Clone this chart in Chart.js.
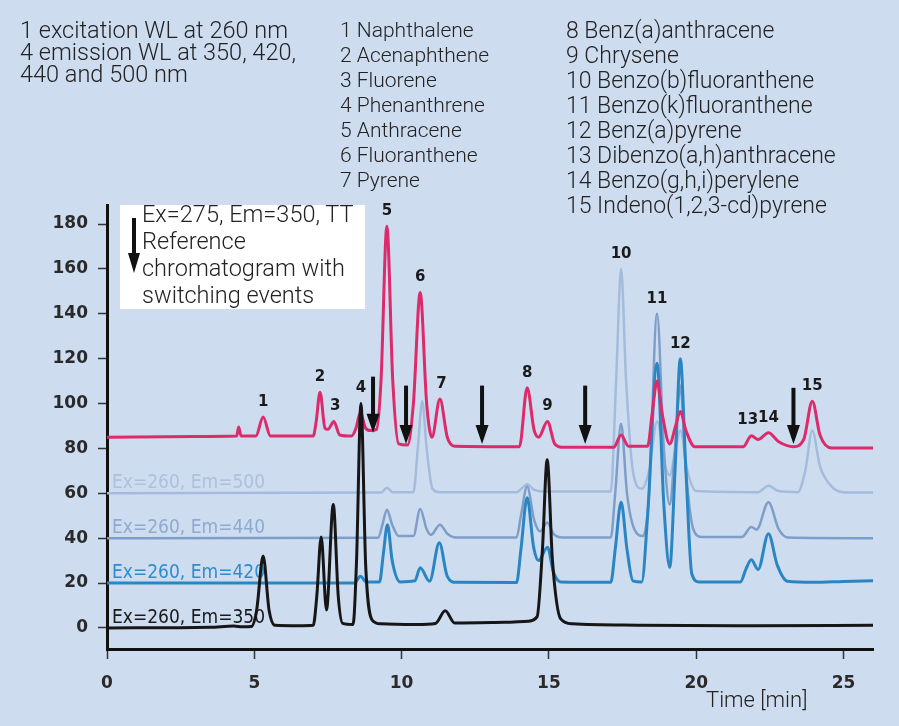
<!DOCTYPE html>
<html>
<head>
<meta charset="utf-8">
<script src="https://cdn.jsdelivr.net/npm/chart.js@4.4.1/dist/chart.umd.min.js"></script>
<style>
  html, body { margin: 0; padding: 0; }
  body { background: #cedcf0; }
  #wrap { position: relative; width: 899px; height: 726px; overflow: hidden; background: #cedcf0; }
  #myChart { position: absolute; left: 0; top: 0; }
  .txt { position: absolute; font-family: Roboto, sans-serif; font-weight: 300; color: #222; white-space: nowrap; }
  #notes { left: 20px; top: 19px; font-size: 23.5px; line-height: 22px; }
  #col1 { left: 340px; top: 18px; font-size: 21px; line-height: 25px; }
  #col2 { left: 566px; top: 18px; font-size: 23px; line-height: 25px; }
  #refBox { position: absolute; left: 120px; top: 205px; width: 245px; height: 104px; background: #fff; }
  #refBox .bar { position: absolute; left: 12px; top: 13px; width: 4px; height: 40px; background: #111; }
  #refBox .head { position: absolute; left: 8px; top: 48px; width: 0; height: 0;
    border-left: 6px solid transparent; border-right: 6px solid transparent; border-top: 20px solid #111; }
  #refBox .txt { left: 22px; top: -4px; font-size: 23.5px; line-height: 27px; }
  #timeLbl { left: 706px; top: 688px; font-size: 22px; line-height: 24px; }
</style>
</head>
<body>
<div id="wrap">
  <canvas id="myChart" width="899" height="726"></canvas>
  <div class="txt" id="notes">1 excitation WL at 260 nm<br>4 emission WL at 350, 420,<br>440 and 500 nm</div>
  <div class="txt" id="col1"></div>
  <div class="txt" id="col2"></div>
  <div id="refBox">
    <div class="bar"></div><div class="head"></div>
    <div class="txt">Ex=275, Em=350, TT<br>Reference<br>chromatogram with<br>switching events</div>
  </div>
  <div class="txt" id="timeLbl">Time [min]</div>
</div>
<script>
// compounds, numbered in elution order
const compounds = ['Naphthalene', 'Acenaphthene', 'Fluorene', 'Phenanthrene', 'Anthracene',
  'Fluoranthene', 'Pyrene', 'Benz(a)anthracene', 'Chrysene', 'Benzo(b)fluoranthene',
  'Benzo(k)fluoranthene', 'Benz(a)pyrene', 'Dibenzo(a,h)anthracene', 'Benzo(g,h,i)perylene',
  'Indeno(1,2,3-cd)pyrene'];

// peak apex: retention time [min] and height of the tallest trace
const peakTimes = [5.3, 7.23, 7.75, 8.62, 9.5, 10.63, 11.35, 14.26, 14.95, 17.45, 18.67, 19.46, 21.75, 22.45, 23.94];
const peakTops  = [94, 105, 92, 100, 179, 149.5, 102, 107, 92, 160, 140, 120, 86, 87, 101];

// wavelength switching events on the reference run
const switchTimes = [9.03, 10.15, 12.73, 16.23, 23.3];
const switchFrom  = [112, 108, 108, 108, 107];
const switchTo    = [87, 82, 82, 82, 82];

const xTicks = [0, 5, 10, 15, 20, 25];
const yTicks = [0, 20, 40, 60, 80, 100, 120, 140, 160, 180];

const seriesNames = ['Ex=260, Em=350', 'Ex=275, Em=350, TT', 'Ex=260, Em=420', 'Ex=260, Em=440', 'Ex=260, Em=500'];
const baselines = [0, 85, 20, 40, 60];

// traces as [time, signal]
const em350 = [[0,0],[3.5,0.3],[4.3,0.8],[4.6,0.5],[4.9,0.6],[5.08,8],[5.3,32],[5.5,8],[5.7,1.2],[6.5,1.0],
  [7.0,1.2],[7.12,14],[7.27,40.5],[7.45,8],[7.68,55],[7.85,14],[8.0,2],[8.35,1.5],[8.47,30],[8.62,100],
  [8.78,28],[9.0,3.5],[9.3,1.8],[10.5,1.5],[11.15,2],[11.48,7.6],[11.8,2.2],[13.5,2.5],[14.3,3],[14.6,5],
  [14.78,35],[14.94,75],[15.12,30],[15.4,4],[15.8,1.8],[18,1.2],[22,1],[26,1.2]];

const tt350 = [[0,85],[3,85.3],[4.4,85.5],[4.47,89.5],[4.55,85.5],[5.05,85.5],[5.3,94],[5.55,85.5],[7.0,85.5],
  [7.1,92],[7.23,105],[7.4,89],[7.5,88.5],[7.7,92],[7.9,86],[8.3,85.5],[8.45,89],[8.6,96],[8.78,89],
  [8.95,88],[9.15,88.5],[9.3,110],[9.5,179],[9.7,110],[9.9,82],[10.2,81.5],[10.4,100],[10.63,149.5],
  [10.85,100],[11.03,85],[11.3,102],[11.55,85],[11.8,81],[14.0,80.8],[14.26,107],[14.5,88],[14.65,85],
  [14.95,92],[15.2,82],[15.5,80.5],[17.2,80.5],[17.45,86],[17.7,81],[18.35,81],[18.5,95],[18.67,110],
  [18.85,95],[19.1,82],[19.3,90],[19.46,96.5],[19.65,88],[19.95,80.7],[21.6,80.8],[21.87,85.7],[22.1,84],
  [22.45,87],[22.8,83],[23.3,80.8],[23.65,84],[23.94,101],[24.2,86],[24.6,80.2],[26,80.2]];

const em420 = [[0,20],[8.4,20],[8.6,23],[8.8,20.5],[9.25,20.5],[9.38,33],[9.52,46],[9.68,30],[9.95,20.5],
  [10.45,21],[10.63,26.8],[10.95,20.8],[11.28,38],[11.55,23],[11.85,20.3],[13.9,20.2],[14.05,35],[14.26,58],
  [14.48,36],[14.65,30],[14.95,36],[15.15,25],[15.4,20.5],[17.1,20.3],[17.25,35],[17.45,56],[17.65,35],
  [17.85,21],[18.15,20.5],[18.35,50],[18.67,118],[18.9,55],[19.1,27],[19.28,70],[19.46,120],[19.65,70],
  [19.85,24],[20.1,20.5],[21.5,20.5],[21.68,26],[21.87,30.4],[22.1,26],[22.45,42],[22.75,28],[23.1,20.8],
  [24,20.3],[25,20.7],[26,21]];

const em440 = [[0,40],[9.2,40.2],[9.35,46],[9.5,52.7],[9.68,46],[9.9,41],[10.4,41],[10.63,53],[10.85,44],
  [11.0,41.5],[11.3,46],[11.55,42],[11.85,40.3],[13.9,40.3],[14.05,50],[14.26,63],[14.5,48],[14.7,43],
  [14.95,47],[15.15,42],[15.45,40.3],[17.1,40.3],[17.25,60],[17.45,91],[17.65,60],[17.9,44],[18.2,41],
  [18.4,60],[18.67,140],[18.9,80],[19.1,55],[19.28,80],[19.46,108],[19.65,70],[19.9,44],[20.2,40.5],
  [21.55,40.5],[21.87,45],[22.05,43.8],[22.45,56],[22.8,44],[23.1,40.3],[26,40]];

const em500 = [[0,60],[9.3,60.3],[9.5,62.5],[9.7,60.5],[10.4,60.5],[10.55,80],[10.7,101],[10.85,80],[11.05,62],
  [11.3,60.5],[13.9,60.5],[14.1,62.5],[14.26,64],[14.5,61.5],[14.8,60.8],[17.1,60.8],[17.28,110],[17.45,160],
  [17.62,110],[17.85,70],[18.15,62],[18.4,70],[18.67,92],[18.95,72],[19.1,68],[19.3,80],[19.46,88],
  [19.7,70],[20.0,61],[22.1,60.5],[22.45,63.4],[22.8,61],[23.45,60.5],[23.7,70],[23.94,88],[24.2,72],
  [24.6,63],[25.0,60.5],[26,60.3]];

const traces = [em350, tt350, em420, em440, em500];
const lineColors  = ['#161616', '#dc2a6a', '#2a86c2', '#7e9ec8', '#a3bcdc'];
const labelColors = ['#1a1a1a', null, '#2f8ccf', '#8eaad0', '#abc1dc'];
const lineWidths  = [3, 3, 3, 2.5, 2.5];

// compound list columns
document.getElementById('col1').innerHTML = compounds.slice(0, 7).map((c, i) => (i + 1) + ' ' + c).join('<br>');
document.getElementById('col2').innerHTML = compounds.slice(7).map((c, i) => (i + 8) + ' ' + c).join('<br>');

const tickFont = { family: 'DejaVu Sans', size: 17, weight: 'bold' };

// trace names, switching arrows and peak numbers
const plotText = {
    id: 'plotText',
    beforeDatasetsDraw(chart) {
        const ctx = chart.ctx, x = chart.scales.x, y = chart.scales.y;
        ctx.save();
        ctx.font = '19px "DejaVu Sans Condensed", "DejaVu Sans", sans-serif';
        ctx.textBaseline = 'alphabetic';
        ctx.textAlign = 'left';
        seriesNames.forEach((name, i) => {
            if (!labelColors[i]) return;
            ctx.fillStyle = labelColors[i];
            ctx.fillText(name, x.getPixelForValue(0.17), y.getPixelForValue(baselines[i]) - 5);
        });
        ctx.restore();
    },
    afterDatasetsDraw(chart) {
        const ctx = chart.ctx, x = chart.scales.x, y = chart.scales.y;
        ctx.save();
        ctx.fillStyle = '#111';
        ctx.strokeStyle = '#111';
        ctx.lineWidth = 4;
        switchTimes.forEach((t, i) => {
            const px = x.getPixelForValue(t);
            const top = y.getPixelForValue(switchFrom[i]);
            const tip = y.getPixelForValue(switchTo[i]);
            ctx.beginPath();
            ctx.moveTo(px, top);
            ctx.lineTo(px, tip - 14);
            ctx.stroke();
            ctx.beginPath();
            ctx.moveTo(px - 6.5, tip - 19);
            ctx.lineTo(px + 6.5, tip - 19);
            ctx.lineTo(px, tip);
            ctx.closePath();
            ctx.fill();
        });
        ctx.font = 'bold 15px "DejaVu Sans", sans-serif';
        ctx.textAlign = 'center';
        ctx.textBaseline = 'middle';
        ctx.fillStyle = '#1a1a1a';
        peakTimes.forEach((t, i) => {
            ctx.fillText(String(i + 1), x.getPixelForValue(t), y.getPixelForValue(peakTops[i]) - 15);
        });
        ctx.restore();
    }
};

const ctx = document.getElementById('myChart').getContext('2d');
const myChart = new Chart(ctx, {
    type: 'line',
    data: {
        datasets: traces.map((tr, i) => ({
            label: seriesNames[i],
            data: tr.map(p => ({ x: p[0], y: p[1] })),
            borderColor: lineColors[i],
            borderWidth: lineWidths[i],
            pointRadius: 0,
            fill: false,
            cubicInterpolationMode: 'monotone'
        }))
    },
    options: {
        responsive: false,
        animation: false,
        devicePixelRatio: 1,
        layout: { padding: { left: 27, top: 205, right: 26, bottom: 32 } },
        plugins: { legend: { display: false }, tooltip: { enabled: false } },
        scales: {
            x: {
                type: 'linear',
                min: 0,
                max: 26,
                afterBuildTicks: s => { s.ticks = xTicks.map(v => ({ value: v })); },
                afterFit: s => { s.height = 45; },
                grid: { drawOnChartArea: false, tickLength: 10, tickColor: '#333', tickWidth: 1.5 },
                border: { display: true, color: '#111', width: 3 },
                ticks: { font: tickFont, color: '#2a2a2a', padding: 14, maxRotation: 0 }
            },
            y: {
                min: -9.4,
                max: 188.5,
                afterBuildTicks: s => { s.ticks = yTicks.map(v => ({ value: v })); },
                afterFit: s => { s.width = 80; },
                grid: { drawOnChartArea: false, tickLength: 9, tickColor: '#333', tickWidth: 1.5 },
                border: { display: true, color: '#111', width: 3 },
                ticks: { font: tickFont, color: '#2a2a2a', padding: 10 }
            }
        }
    },
    plugins: [plotText]
});
</script>
</body>
</html>
